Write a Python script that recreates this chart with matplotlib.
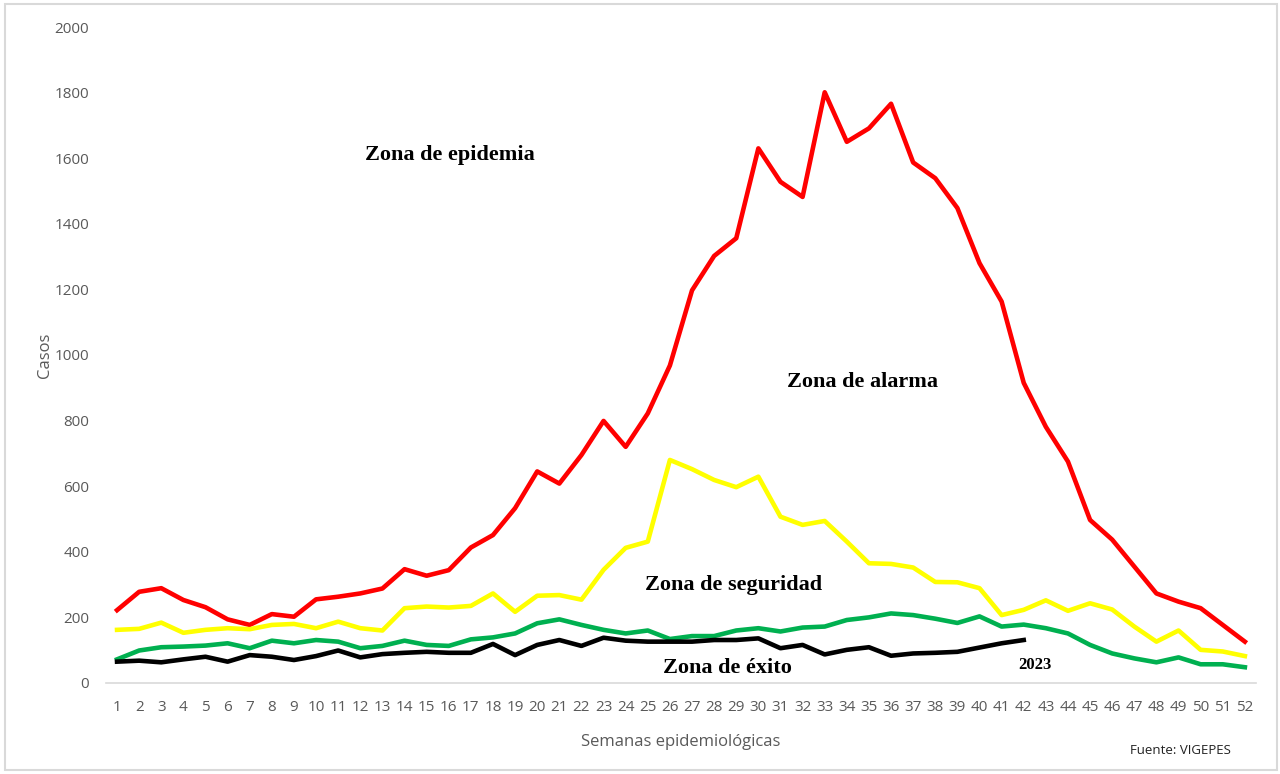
import matplotlib.pyplot as plt
from matplotlib.patches import Rectangle

# Data
semanas = list(range(1, 53))
epidemia = [222, 278, 289, 253, 231, 194, 177, 210, 202, 255, 263, 273, 288, 347, 327, 344,
            413, 451, 533, 645, 608, 695, 799, 720, 822, 968, 1197, 1302, 1356, 1630, 1528,
            1482, 1801, 1650, 1691, 1766, 1587, 1539, 1448, 1280, 1163, 915, 781, 675, 497,
            437, 355, 273, 248, 228, 177, 126]
alarma = [162, 165, 184, 153, 162, 167, 164, 177, 180, 167, 187, 167, 160, 228, 233, 230,
          235, 273, 217, 266, 268, 254, 345, 412, 431, 680, 652, 619, 597, 629, 507, 482,
          494, 431, 365, 363, 352, 308, 307, 289, 207, 223, 252, 220, 243, 224, 172, 126,
          160, 101, 96, 82]
seguridad = [72, 99, 109, 111, 114, 121, 106, 129, 121, 131, 126, 106, 113, 129, 116, 113,
             133, 139, 151, 182, 194, 177, 162, 151, 160, 134, 143, 143, 160, 167, 157, 169,
             172, 192, 200, 212, 207, 196, 183, 203, 172, 178, 167, 151, 116, 90, 75, 63,
             78, 57, 57, 48]
casos_2023 = [65, 68, 63, 72, 80, 65, 85, 80, 70, 82, 99, 78, 88, 92, 95, 92, 92, 119, 85,
              116, 131, 113, 138, 129, 126, 126, 126, 131, 131, 136, 106, 116, 87, 101, 109,
              83, 90, 92, 95, 108, 121, 131]

gray = '#595959'
tick_font = 'Open Sans'
zone_font = 'Liberation Serif'

fig = plt.figure(figsize=(12.8, 7.74), dpi=100)
ax = fig.add_axes([0.0828, 0.1176, 0.8984, 0.8475])

lw = 3.3
ax.plot(semanas, epidemia, color='#ff0000', lw=lw)
ax.plot(semanas, alarma, color='#ffff00', lw=lw)
ax.plot(semanas, seguridad, color='#00b050', lw=lw)
ax.plot(semanas[:len(casos_2023)], casos_2023, color='black', lw=lw)

ax.set_xlim(0.5, 52.5)
ax.set_ylim(0, 2000)
ax.set_xticks(semanas)
ax.set_yticks(range(0, 2001, 200))
ax.tick_params(length=0, labelsize=11, labelcolor=gray)
ax.tick_params(axis='y', pad=12)
ax.tick_params(axis='x', pad=12)
for lab in ax.get_xticklabels() + ax.get_yticklabels():
    lab.set_fontfamily(tick_font)

for s in ['top', 'right', 'left']:
    ax.spines[s].set_visible(False)
ax.spines['bottom'].set_color('#d9d9d9')
ax.spines['bottom'].set_linewidth(1.2)

ax.set_ylabel('Casos', fontsize=12, color=gray, family=tick_font, labelpad=1)
ax.set_xlabel('Semanas epidemiológicas', fontsize=12, color=gray, family=tick_font, labelpad=14)

# Zone labels
zt = dict(fontsize=16, fontweight='bold', family=zone_font, ha='center', va='center')
ax.text(16.05, 1610, 'Zona de epidemia', **zt)
ax.text(34.7, 918, 'Zona de alarma', **zt)
ax.text(28.9, 299, 'Zona de seguridad', **zt)
ax.text(28.6, 46, 'Zona de éxito', **zt)
ax.text(42.5, 55, '2023', fontsize=12, fontweight='bold', family=zone_font, ha='center', va='center')

fig.text(0.962, 0.031, 'Fuente: VIGEPES', fontsize=9.5, family=tick_font, color='#222222',
         ha='right', va='center')

# light frame around the picture
fig.patches.append(Rectangle((0.004, 0.005), 0.994, 0.99, transform=fig.transFigure,
                             fill=False, edgecolor='#d9d9d9', lw=1.5))

plt.savefig('out.png', dpi=100)
